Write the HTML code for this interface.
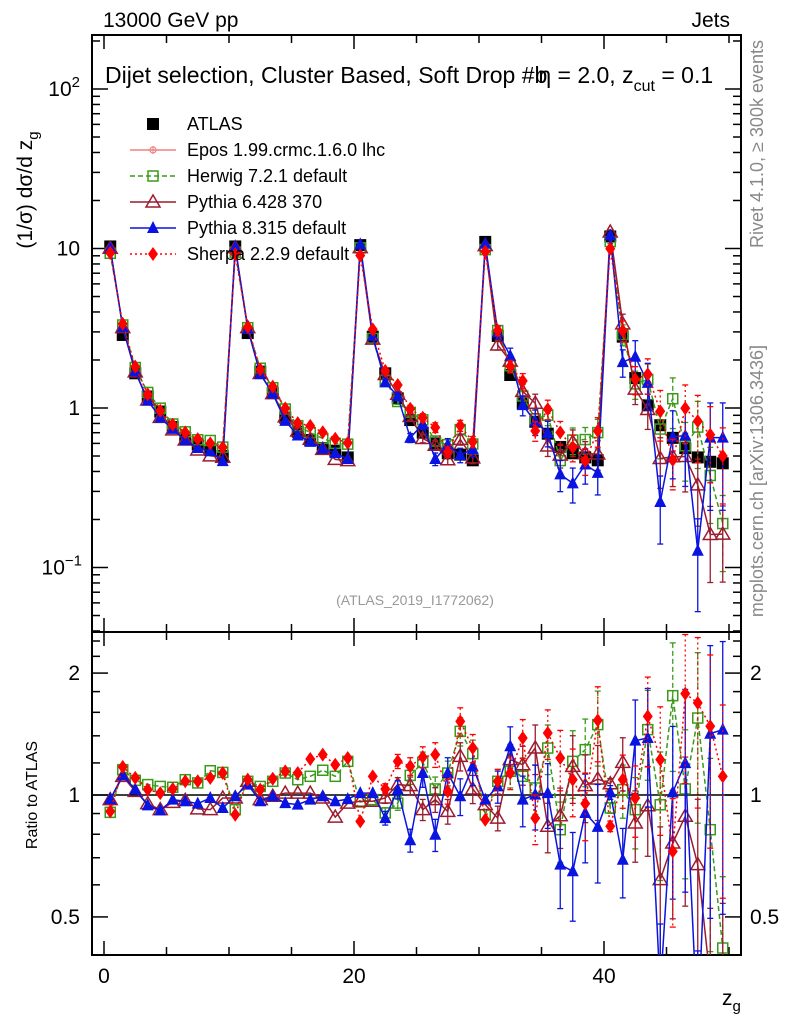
<!DOCTYPE html>
<html><head><meta charset="utf-8"><style>
html,body{margin:0;padding:0;background:#fff;overflow:hidden;width:786px;height:1024px;}
svg{display:block;}
svg text{font-family:"Liberation Sans",sans-serif;}
</style></head><body>
<svg id="c" width="786" height="1024" viewBox="0 0 786 1024" xmlns="http://www.w3.org/2000/svg">
<defs>
<clipPath id="cm"><rect x="92" y="35" width="649" height="597"/></clipPath>
<clipPath id="cr"><rect x="92" y="632" width="649" height="323"/></clipPath>
</defs>
<text x="103" y="27" font-size="21">13000 GeV pp</text>
<text x="730" y="27" font-size="21" text-anchor="end">Jets</text>
<rect x="92" y="35" width="649" height="597" fill="none" stroke="#000" stroke-width="2"/>
<rect x="92" y="632" width="649" height="323" fill="none" stroke="#000" stroke-width="2"/>
<text x="105" y="83" font-size="23">Dijet selection, Cluster Based, Soft Drop #b<tspan dx="-9">η = 2.0, z</tspan><tspan font-size="16" dy="8">cut</tspan><tspan dy="-8"> = 0.1</tspan></text>
<text transform="translate(763,40) rotate(-90)" font-size="18" fill="#888" text-anchor="end">Rivet 4.1.0, ≥ 300k events</text>
<text transform="translate(763,345) rotate(-90)" font-size="18" fill="#888" text-anchor="end">mcplots.cern.ch [arXiv:1306.3436]</text>
<text x="415" y="605" font-size="14" fill="#999" text-anchor="middle">(ATLAS_2019_I1772062)</text>
<text transform="translate(32,190) rotate(-90)" font-size="21" text-anchor="middle">(1/σ) dσ/d z<tspan font-size="15" dy="6">g</tspan></text>
<text transform="translate(37,795) rotate(-90)" font-size="16" text-anchor="middle">Ratio to ATLAS</text>
<text x="722" y="1005" font-size="21">z<tspan font-size="15" dy="6">g</tspan></text>
<g id="axes"></g>
<g id="marks"></g>
<g id="legend"></g>
</svg>
<script>
const bins = [0,1,2,3,4,5,6,7,8,9,10,11,12,13,14,15,16,17,18,19,20,21,22,23,24,25,26,27,28,29,30,31,32,33,34,35,36,37,38,39,40,41,42,43,44,45,46,47,48,49];
const atlas = [10.3,2.87,1.65,1.18,0.95,0.76,0.65,0.59,0.545,0.50,10.3,2.95,1.69,1.24,0.87,0.71,0.63,0.56,0.54,0.49,10.5,2.8,1.65,1.15,0.84,0.70,0.60,0.52,0.51,0.47,11.0,2.83,1.61,1.07,0.82,0.69,0.57,0.52,0.49,0.47,11.9,2.8,1.54,1.04,0.78,0.65,0.56,0.49,0.46,0.45];
const ratioPy8 = [0.977,1.118,1.031,0.943,0.916,0.974,0.965,0.952,0.983,0.929,0.993,1.061,0.965,0.993,0.955,0.947,0.974,0.993,0.965,0.977,1.011,1.011,0.877,1.031,0.773,1.133,0.798,1.133,0.993,1.177,0.974,1.050,1.319,0.974,1.002,1.011,0.673,0.648,0.903,0.834,1.015,0.692,1.362,1.383,0.33,1.015,1.199,0.26,1.417,1.450];
const ratioPy6 = [0.974,1.112,1.021,0.952,0.920,0.959,0.970,0.924,0.920,0.983,0.983,1.081,0.974,0.993,1.011,1.011,1.011,0.983,0.882,0.955,0.965,0.965,0.983,1.061,1.055,0.920,0.974,0.911,1.246,1.035,0.947,0.877,1.223,1.188,1.306,0.837,0.889,1.177,1.055,1.095,1.066,1.204,0.853,0.941,0.618,0.761,0.886,0.673,0.35,0.36];
const ratioHerwig = [0.906,1.155,1.087,1.061,1.050,1.045,1.091,1.071,1.148,1.137,0.920,1.081,1.050,1.081,1.133,1.091,1.112,1.151,1.112,1.211,0.961,0.974,0.903,0.955,1.118,1.204,1.035,1.133,1.436,1.265,0.894,1.081,1.144,1.112,1.041,1.306,0.821,1.211,1.294,1.492,0.929,1.031,0.920,1.450,0.946,1.759,1.035,1.549,0.821,0.419];
const ratioSherpa = [0.911,1.173,1.102,1.031,1.011,1.035,1.081,1.081,1.102,1.133,0.894,1.091,1.031,1.097,1.144,1.133,1.227,1.258,1.188,1.234,0.861,1.112,1.035,1.211,1.177,1.241,1.258,1.021,1.520,1.306,0.869,1.081,1.133,1.383,0.877,1.423,1.234,1.091,0.952,1.529,0.837,1.091,0.983,1.564,1.223,0.726,1.779,1.688,1.478,1.112];
const relErr = [0.01,0.01,0.01,0.01,0.01,0.01,0.01,0.01,0.02,0.02,0.01,0.01,0.01,0.02,0.02,0.02,0.02,0.02,0.02,0.02,0.01,0.02,0.03,0.04,0.05,0.06,0.07,0.07,0.08,0.08,0.02,0.07,0.09,0.11,0.14,0.14,0.17,0.19,0.19,0.21,0.03,0.15,0.20,0.25,0.35,0.35,0.40,0.45,0.50,0.50];
const xTicks = [0,20,40];
const mainTicks = [{v:100,t:"10",e:"2"},{v:10,t:"10",e:""},{v:1,t:"1",e:""},{v:0.1,t:"10",e:"−1"}];
const ratioTicks = [{v:2,t:"2"},{v:1,t:"1"},{v:0.5,t:"0.5"}];

const NS="http://www.w3.org/2000/svg";
const X = v => 104 + v*12.5;
const YM = v => 408 - Math.log10(v)*159.5;
const YR = v => 795 - Math.log10(v)*405;
function mk(tag, attrs, parent){const e=document.createElementNS(NS,tag);for(const k in attrs)e.setAttribute(k,attrs[k]);parent.appendChild(e);return e;}
const axes=document.getElementById('axes'), marks=document.getElementById('marks'), legend=document.getElementById('legend');

for(let v=0; v<=50; v+=5){
  const big = xTicks.includes(v);
  const L = big?14:8;
  for(const [yb,yt] of [[632,35],[955,632]]){
    let t=mk('line',{x1:X(v),x2:X(v),y1:yb,y2:yb-L,stroke:'#000','stroke-width':1.5},axes);
    
    
    t=mk('line',{x1:X(v),x2:X(v),y1:yt,y2:yt+L,stroke:'#000','stroke-width':1.5},axes);
    
    
  }
}
xTicks.forEach(v=>{const t=mk('text',{x:X(v),y:983,'font-size':21,'text-anchor':'middle'},axes);t.textContent=v;
  
  });
for(let d=-2; d<=2; d++){
  for(let m=1;m<=9;m++){
    const v=m*Math.pow(10,d); const y=YM(v); if(y<35||y>632) continue;
    const L = m===1?16:8;
    let t=mk('line',{x1:92,x2:92+L,y1:y,y2:y,stroke:'#000','stroke-width':1.5},axes);
    
    
    t=mk('line',{x1:741,x2:741-L,y1:y,y2:y,stroke:'#000','stroke-width':1.5},axes);
    
    
  }
}
mainTicks.forEach(o=>{const t=mk('text',{x:o.e?(o.e==='2'?80:82):80,y:YM(o.v)+7,'font-size':21,'text-anchor':'end'},axes);
  t.textContent=o.t; if(o.e){const s=mk('tspan',{'font-size':15,dy:-9},t);s.textContent=o.e;}
  
  });
[0.4,0.5,0.6,0.7,0.8,0.9,1,1.2,1.4,1.6,1.8,2,2.2,2.4].forEach(v=>{const y=YR(v); if(y<632||y>955) return;
  const L=[0.5,1,2].includes(v)?16:8;
  let t=mk('line',{x1:92,x2:92+L,y1:y,y2:y,stroke:'#000','stroke-width':1.5},axes);
  
  
  t=mk('line',{x1:741,x2:741-L,y1:y,y2:y,stroke:'#000','stroke-width':1.5},axes);
  
  });
ratioTicks.forEach(o=>{
  let t=mk('text',{x:80,y:YR(o.v)+7,'font-size':21,'text-anchor':'end'},axes);t.textContent=o.t;
  
  
  t=mk('text',{x:750,y:YR(o.v)+7,'font-size':21},axes);t.textContent=o.t;
  
  });
let ref=mk('line',{x1:92,x2:741,y1:YR(1),y2:YR(1),stroke:'#000','stroke-width':1.5},axes);



function marker(g,type,x,y,col,s){
  s=s||6;
  if(type==='sq') return mk('rect',{x:x-s,y:y-s,width:2*s,height:2*s,fill:col},g);
  if(type==='osq') return mk('rect',{x:x-s+1,y:y-s+1,width:2*s-2,height:2*s-2,fill:'none',stroke:col,'stroke-width':1.5},g);
  if(type==='otri') return mk('polygon',{points:`${x},${y-s-1} ${x-s-1},${y+s-1} ${x+s+1},${y+s-1}`,fill:'none',stroke:col,'stroke-width':1.5},g);
  if(type==='tri') return mk('polygon',{points:`${x},${y-s-1} ${x-s},${y+s-1} ${x+s},${y+s-1}`,fill:col},g);
  if(type==='dia') return mk('polygon',{points:`${x},${y-s-1} ${x-s+1},${y} ${x},${y+s+1} ${x+s-1},${y}`,fill:col},g);
  if(type==='cross'){const gg=mk('g',{},g);mk('circle',{cx:x,cy:y,r:3,fill:'none',stroke:col,'stroke-width':1.2},gg);mk('line',{x1:x-4,x2:x+4,y1:y,y2:y,stroke:col},gg);mk('line',{x1:x,x2:x,y1:y-4,y2:y+4,stroke:col},gg);return gg;}
}
const series=[
 {name:'herwig',ratio:ratioHerwig,col:'#3a9a1a',type:'osq',dash:'5,3',ew:1},
 {name:'pythia6',ratio:ratioPy6,col:'#9b1c2e',type:'otri',dash:'',ew:1},
 {name:'pythia8',ratio:ratioPy8,col:'#0a14e0',type:'tri',dash:'',ew:1.3},
 {name:'sherpa',ratio:ratioSherpa,col:'#ff0000',type:'dia',dash:'2,3',ew:1}
];
const gm=mk('g',{'clip-path':'url(#cm)'},marks);
const gr=mk('g',{'clip-path':'url(#cr)'},marks);
series.forEach(s=>{
  ['main','ratio'].forEach(panel=>{
    const g=panel==='main'?gm:gr;
    const sg=mk('g',{},g);
    
    
    const vals=bins.map(i=>panel==='main'?atlas[i]*s.ratio[i]:s.ratio[i]);
    const Y=panel==='main'?YM:YR;
    const pts=bins.map(i=>`${X(i+0.5)},${Y(vals[i])}`).join(' ');
    const pl=mk('polyline',{points:pts,fill:'none',stroke:s.col,'stroke-width':1.5,'stroke-dasharray':s.dash},sg);
    
    
    bins.forEach(i=>{
      const v=vals[i], e=relErr[i]*s.ew*v, x=X(i+0.5);
      if(relErr[i]>=0.03){
        const y1=Y(v+e), y2=Y(Math.max(v-e,v*0.05));
        const eb=mk('line',{x1:x,x2:x,y1:y1,y2:y2,stroke:s.col,'stroke-width':1.3,'stroke-dasharray':s.dash},sg);
        
        
        mk('line',{x1:x-3,x2:x+3,y1:y1,y2:y1,stroke:s.col,'stroke-width':1.3},sg);
        mk('line',{x1:x-3,x2:x+3,y1:y2,y2:y2,stroke:s.col,'stroke-width':1.3},sg);
      }
      const m=marker(sg,s.type,x,Y(v),s.col);
      
      
    });
  });
});
const ag=document.createElementNS(NS,'g');gm.insertBefore(ag,gm.firstChild);


bins.forEach(i=>{const m=marker(ag,'sq',X(i+0.5),YM(atlas[i]),'#000',6);
  
  });

const leg=[
 {t:'ATLAS',col:'#000',type:'sq',dash:null},
 {t:'Epos 1.99.crmc.1.6.0 lhc',col:'#f08080',type:'cross',dash:''},
 {t:'Herwig 7.2.1 default',col:'#3a9a1a',type:'osq',dash:'5,3'},
 {t:'Pythia 6.428 370',col:'#9b1c2e',type:'otri',dash:''},
 {t:'Pythia 8.315 default',col:'#0a14e0',type:'tri',dash:''},
 {t:'Sherpa 2.2.9 default',col:'#ff0000',type:'dia',dash:'2,3'}
];
leg.forEach((l,k)=>{
  const y=124+k*26;
  const g=mk('g',{},legend);
  
  
  if(l.dash!==null) mk('line',{x1:130,x2:176,y1:y,y2:y,stroke:l.col,'stroke-width':1.5,'stroke-dasharray':l.dash},g);
  marker(g,l.type,153,y,l.col,6);
  const t=mk('text',{x:187,y:y+6,'font-size':18},g);t.textContent=l.t;
});
</script>
</body></html>
